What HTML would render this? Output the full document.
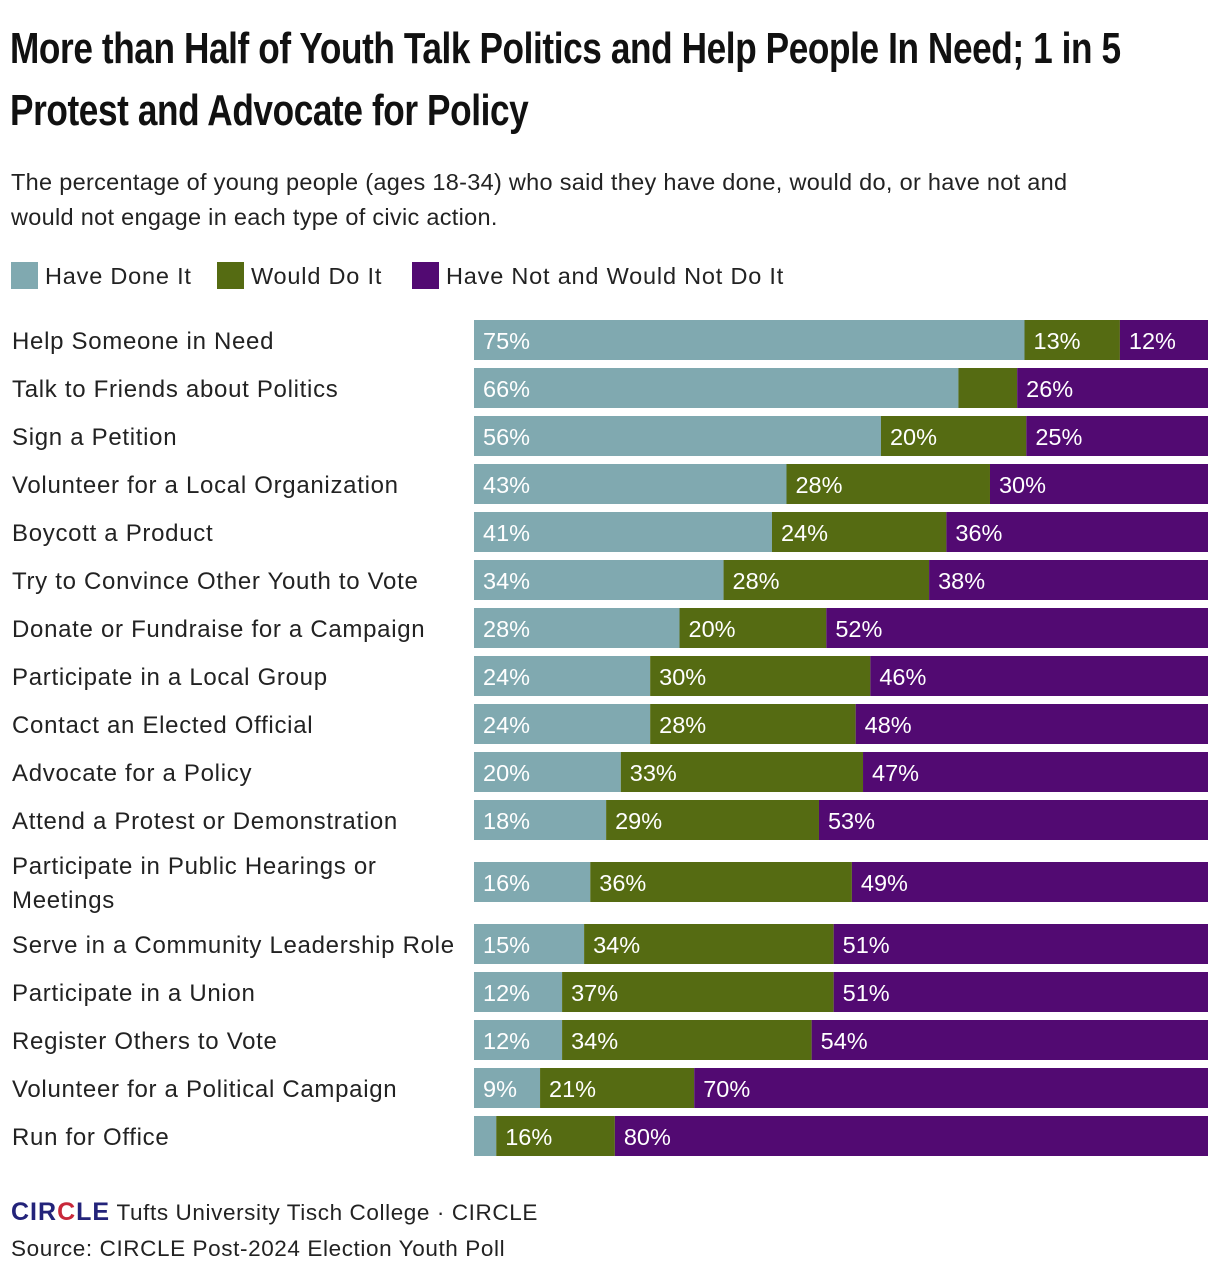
<!DOCTYPE html>
<html><head><meta charset="utf-8"><style>
body{margin:0;background:#fff;font-family:"Liberation Sans",sans-serif;color:#111;}
#wrap{position:relative;width:1220px;height:1278px;overflow:hidden;}
.tl{position:absolute;left:10px;font-weight:bold;font-size:44px;line-height:50px;letter-spacing:-0.5px;white-space:nowrap;transform-origin:0 0;transform:scaleX(0.80);}
.sub{position:absolute;left:11px;top:165px;font-size:23.5px;line-height:35px;color:#222;width:1100px;letter-spacing:0.3px;}
.leg{position:absolute;top:262px;height:28px;font-size:23.5px;line-height:28px;color:#222;letter-spacing:0.8px;}
.sw{display:inline-block;width:27px;height:27px;vertical-align:top;margin-right:7px;}
.foot{position:absolute;left:11px;font-size:22.5px;color:#222;letter-spacing:0.6px;}
</style></head><body>
<div id="wrap">
<div>
<div class="tl" style="top:24px">More than Half of Youth Talk Politics and Help People In Need; 1 in 5</div>
<div class="tl" style="top:86px">Protest and Advocate for Policy</div>
</div>
<div class="sub">The percentage of young people (ages 18-34) who said they have done, would do, or have not and would not engage in each type of civic action.</div>
<div class="leg" style="left:11px"><span class="sw" style="background:#80a9b0"></span>Have Done It</div>
<div class="leg" style="left:217px"><span class="sw" style="background:#556b12"></span>Would Do It</div>
<div class="leg" style="left:412px"><span class="sw" style="background:#520a72"></span>Have Not and Would Not Do It</div>
<svg id="chart" width="1220" height="1278" style="position:absolute;left:0;top:0"></svg>
<div class="foot" style="top:1198px"><span style="font-weight:bold;color:#23237a;font-size:25px;letter-spacing:1px">CIR<span style="color:#c8283a">C</span>LE</span> Tufts University Tisch College · CIRCLE</div>
<div class="foot" style="top:1236px">Source: CIRCLE Post-2024 Election Youth Poll</div>
</div>
<script>
const categories=["Help Someone in Need","Talk to Friends about Politics","Sign a Petition","Volunteer for a Local Organization","Boycott a Product","Try to Convince Other Youth to Vote","Donate or Fundraise for a Campaign","Participate in a Local Group","Contact an Elected Official","Advocate for a Policy","Attend a Protest or Demonstration","Participate in Public Hearings or Meetings","Serve in a Community Leadership Role","Participate in a Union","Register Others to Vote","Volunteer for a Political Campaign","Run for Office"];
const haveDone=[75,66,56,43,41,34,28,24,24,20,18,16,15,12,12,9,3];
const wouldDo=[13,8,20,28,24,28,20,30,28,33,29,36,34,37,34,21,16];
const wouldNot=[12,26,25,30,36,38,52,46,48,47,53,49,51,51,54,70,80];
const showLabel=[[1,1,1],[1,0,1],[1,1,1],[1,1,1],[1,1,1],[1,1,1],[1,1,1],[1,1,1],[1,1,1],[1,1,1],[1,1,1],[1,1,1],[1,1,1],[1,1,1],[1,1,1],[1,1,1],[0,1,1]];
const svg=document.getElementById('chart');
const NS='http://www.w3.org/2000/svg';
const x0=474,W=734,barH=40;
function xs(frac){return x0+frac*W;}
function rowY(i){return 320+i*48+(i>=11?14:0)+(i>=12?14:0);}
const colors=['#80a9b0','#556b12','#520a72'];
const names=['have-done','would-do','would-not'];
categories.forEach((c,i)=>{
  const y=rowY(i);
  const vals=[haveDone[i],wouldDo[i],wouldNot[i]];
  const tot=vals[0]+vals[1]+vals[2];
  const t=document.createElementNS(NS,'text');
  
  
  t.setAttribute('x',12);t.setAttribute('font-size','24');t.setAttribute('fill','#222');
  t.setAttribute('letter-spacing','0.7');
  t.setAttribute('font-family','Liberation Sans, sans-serif');
  if(i===11){
    t.innerHTML='<tspan x="12" y="'+(y+12)+'">Participate in Public Hearings or</tspan><tspan x="12" y="'+(y+46)+'">Meetings</tspan>';
  } else {t.setAttribute('y',y+29);t.textContent=c;}
  svg.appendChild(t);
  let acc=0;
  vals.forEach((v,k)=>{
    const xa=xs(acc/tot),xb=xs((acc+v)/tot);
    const r=document.createElementNS(NS,'rect');
    
    
    r.setAttribute('x',xa);r.setAttribute('y',y);r.setAttribute('width',xb-xa);r.setAttribute('height',barH);
    r.setAttribute('fill',colors[k]);svg.appendChild(r);
    if(showLabel[i][k]){
      const l=document.createElementNS(NS,'text');
      
      
      l.setAttribute('x',xa+9);l.setAttribute('y',y+29);l.setAttribute('fill','#fff');
      l.setAttribute('font-size','23.5');l.setAttribute('font-family','Liberation Sans, sans-serif');
      l.textContent=v+'%';svg.appendChild(l);
    }
    acc+=v;
  });
});
</script>
</body></html>
